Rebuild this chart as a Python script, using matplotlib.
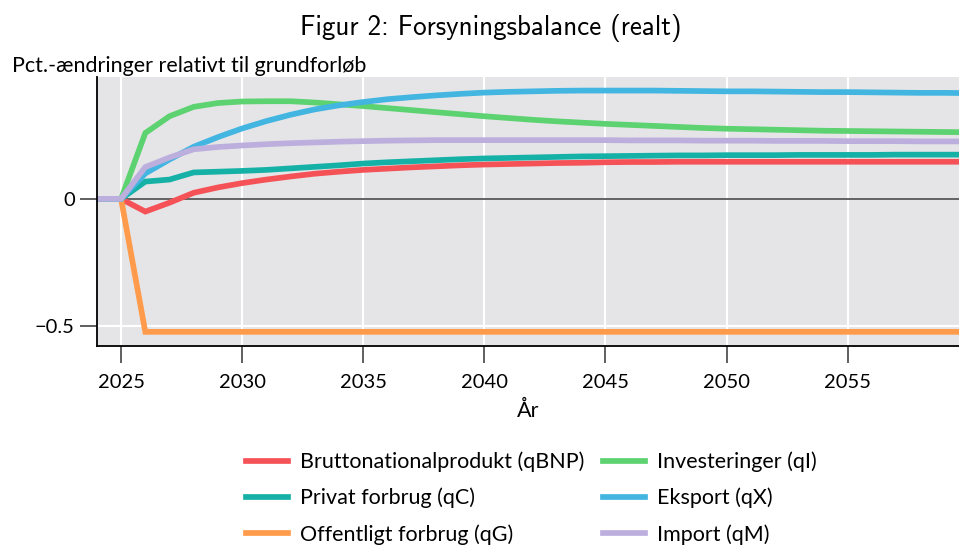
import numpy as np
import matplotlib
matplotlib.use("Agg")
import matplotlib.pyplot as plt

plt.rcParams['font.family'] = ['Lato', 'DejaVu Sans']

# data (pct. changes vs. baseline)
years = list(range(2024, 2061))

q_bnp = [0, 0, -0.050, -0.015, 0.024, 0.045, 0.062, 0.076, 0.088, 0.099,
         0.107, 0.114, 0.119, 0.124, 0.128, 0.132, 0.135, 0.137, 0.139, 0.141,
         0.142, 0.144, 0.145, 0.145, 0.146, 0.146, 0.146, 0.146, 0.146, 0.146,
         0.146, 0.146, 0.146, 0.146, 0.146, 0.146, 0.146]
q_c = [0, 0, 0.068, 0.076, 0.104, 0.107, 0.110, 0.114, 0.120, 0.126,
       0.132, 0.139, 0.144, 0.148, 0.152, 0.156, 0.159, 0.161, 0.163, 0.165,
       0.167, 0.168, 0.169, 0.170, 0.171, 0.171, 0.172, 0.172, 0.172, 0.173,
       0.173, 0.173, 0.173, 0.174, 0.174, 0.174, 0.174]
q_g = [0, 0] + [-0.523] * 35
q_i = [0, 0, 0.259, 0.325, 0.362, 0.377, 0.383, 0.384, 0.384, 0.379,
       0.372, 0.365, 0.357, 0.349, 0.341, 0.333, 0.325, 0.318, 0.311, 0.305,
       0.300, 0.295, 0.291, 0.287, 0.283, 0.279, 0.276, 0.274, 0.272, 0.270,
       0.268, 0.267, 0.266, 0.265, 0.264, 0.263, 0.262]
q_x = [0, 0, 0.100, 0.155, 0.205, 0.243, 0.277, 0.306, 0.331, 0.352,
       0.368, 0.381, 0.392, 0.400, 0.407, 0.413, 0.418, 0.421, 0.423, 0.425,
       0.426, 0.426, 0.426, 0.426, 0.425, 0.424, 0.423, 0.423, 0.422, 0.421,
       0.420, 0.420, 0.419, 0.418, 0.417, 0.417, 0.416]
q_m = [0, 0, 0.125, 0.163, 0.195, 0.204, 0.210, 0.215, 0.219, 0.222,
       0.225, 0.227, 0.229, 0.230, 0.231, 0.231, 0.231, 0.231, 0.231, 0.231,
       0.231, 0.231, 0.230, 0.230, 0.230, 0.229, 0.229, 0.229, 0.228, 0.228,
       0.228, 0.227, 0.227, 0.227, 0.226, 0.226, 0.226]

series = [q_bnp, q_c, q_g, q_i, q_x, q_m]
labels = ["Bruttonationalprodukt (qBNP)", "Privat forbrug (qC)",
          "Offentligt forbrug (qG)", "Investeringer (qI)",
          "Eksport (qX)", "Import (qM)"]
colors = ["#f55257", "#16b1a6", "#ff9b4a", "#5dd270", "#43b5e1", "#bcafdd"]

fig = plt.figure(figsize=(9.59, 5.45), dpi=100)
ax = fig.add_axes([0.101, 0.365, 0.899, 0.494])
ax.set_facecolor("#e5e5e8")

ax.grid(True, color="white", lw=1.5, zorder=0)
ax.set_axisbelow(True)
ax.axhline(0, color="#555555", lw=1.3, zorder=1)

for vals, lab, col in zip(series, labels, colors):
    ax.plot(years, vals, color=col, lw=4.1, label=lab, zorder=2,
            solid_joinstyle="miter")

ax.set_xlim(2024, 2059.6)
ax.set_ylim(-0.579, 0.48)
ax.set_xticks(range(2025, 2060, 5))
ax.set_yticks([-0.5, 0])
ax.set_yticklabels(["\u22120.5", "0"])

for s in ["top", "right"]:
    ax.spines[s].set_visible(False)
for s in ["left", "bottom"]:
    ax.spines[s].set_color("black")
    ax.spines[s].set_linewidth(1.3)
ax.tick_params(direction="out", length=12, width=1.2, color="#444444",
               labelsize=14.5)
ax.tick_params(axis="x", pad=8)
ax.tick_params(axis="y", pad=4)

ax.set_xlabel("År", fontsize=15.5, labelpad=7)
fig.text(0.012, 0.868, "Pct.-ændringer relativt til grundforløb", fontsize=15.5,
         ha="left", va="baseline")
fig.text(0.512, 0.948, "Figur 2: Forsyningsbalance (realt)", fontsize=19.5,
         family="cmss10", ha="center", va="center")

fig.legend(loc="center", bbox_to_anchor=(0.554, 0.086), ncol=2, frameon=False,
           fontsize=15.5, handlelength=1.95, handletextpad=0.56,
           columnspacing=0.84, labelspacing=0.72)

fig.savefig("out.png", dpi=100)
